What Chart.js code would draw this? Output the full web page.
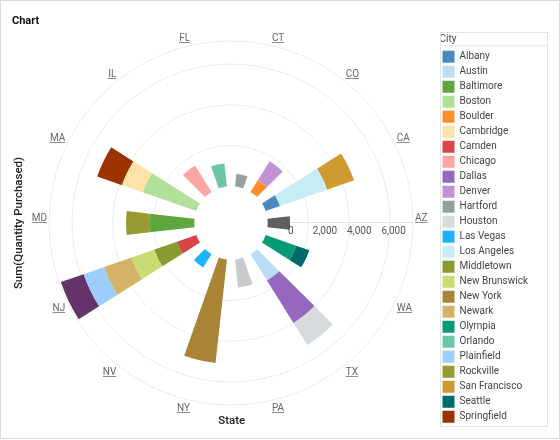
<!DOCTYPE html>
<html>
<head>
<meta charset="utf-8">
<title>Chart</title>
<script src="https://cdn.jsdelivr.net/npm/chart.js@4.4.1/dist/chart.umd.min.js"></script>
<style>
  html, body { margin: 0; padding: 0; background: #fff; }
  canvas { display: block; }
</style>
</head>
<body>
<canvas id="myChart" width="560" height="440"></canvas>
<script>
// States in alphabetical order; the chart lays them out counter-clockwise from the right
const states = ['AZ', 'CA', 'CO', 'CT', 'FL', 'IL', 'MA', 'MD', 'NJ', 'NV', 'NY', 'PA', 'TX', 'WA'];

const cities = ['Albany', 'Austin', 'Baltimore', 'Boston', 'Boulder', 'Cambridge', 'Camden', 'Chicago',
  'Dallas', 'Denver', 'Hartford', 'Houston', 'Las Vegas', 'Los Angeles', 'Middletown', 'New Brunswick',
  'New York', 'Newark', 'Olympia', 'Orlando', 'Plainfield', 'Rockville', 'San Francisco', 'Seattle',
  'Springfield', 'Trenton', 'Tucson', 'York'];

// cities that are stacked but not listed in the visible legend
const unlisted = ['Trenton', 'Tucson', 'York'];

// Sum(Quantity Purchased) per city, one value per state (same order as states)
const _ = null;
//                    AZ    CA    CO    CT   FL    IL    MA    MD    NJ    NV   NY    PA    TX    WA
const albany       = [_,    740,  _,    _,   _,    _,    _,    _,    _,    _,   _,    _,    _,    _];
const austin       = [_,    _,    _,    _,   _,    _,    _,    _,    _,    _,   _,    _,    1530, _];
const baltimore    = [_,    _,    _,    _,   _,    _,    _,    2220, _,    _,   _,    _,    _,    _];
const boston       = [_,    _,    _,    _,   _,    _,    2780, _,    _,    _,   _,    _,    _,    _];
const boulder      = [_,    _,    680,  _,   _,    _,    _,    _,    _,    _,   _,    _,    _,    _];
const cambridge    = [_,    _,    _,    _,   _,    _,    1080, _,    _,    _,   _,    _,    _,    _];
const camden       = [_,    _,    _,    _,   _,    _,    _,    _,    1000, _,   _,    _,    _,    _];
const chicago      = [_,    _,    _,    _,   _,    1530, _,    _,    _,    _,   _,    _,    _,    _];
const dallas       = [_,    _,    _,    _,   _,    _,    _,    _,    _,    _,   _,    _,    2450, _];
const denver       = [_,    _,    1100, _,   _,    _,    _,    _,    _,    _,   _,    _,    _,    _];
const hartford     = [_,    _,    _,    630, _,    _,    _,    _,    _,    _,   _,    _,    _,    _];
const houston      = [_,    _,    _,    _,   _,    _,    _,    _,    _,    _,   _,    _,    1280, _];
const lasVegas     = [_,    _,    _,    _,   _,    _,    _,    _,    _,    770, _,    _,    _,    _];
const losAngeles   = [_,    2450, _,    _,   _,    _,    _,    _,    _,    _,   _,    _,    _,    _];
const middletown   = [_,    _,    _,    _,   _,    _,    _,    _,    1180, _,   _,    _,    _,    _];
const newBrunswick = [_,    _,    _,    _,   _,    _,    _,    _,    1180, _,   _,    _,    _,    _];
const newYork      = [_,    _,    _,    _,   _,    _,    _,    _,    _,    _,   5110, _,    _,    _];
const newark       = [_,    _,    _,    _,   _,    _,    _,    _,    1430, _,   _,    _,    _,    _];
const olympia      = [_,    _,    _,    _,   _,    _,    _,    _,    _,    _,   _,    _,    _,    1590];
const orlando      = [_,    _,    _,    _,   1140, _,    _,    _,    _,    _,   _,    _,    _,    _];
const plainfield   = [_,    _,    _,    _,   _,    _,    _,    _,    1060, _,   _,    _,    _,    _];
const rockville    = [_,    _,    _,    _,   _,    _,    _,    1130, _,    _,   _,    _,    _,    _];
const sanFrancisco = [_,    1400, _,    _,   _,    _,    _,    _,    _,    _,   _,    _,    _,    _];
const seattle      = [_,    _,    _,    _,   _,    _,    _,    _,    _,    _,   _,    _,    _,    680];
const springfield  = [_,    _,    _,    _,   _,    _,    1290, _,    _,    _,   _,    _,    _,    _];
const trenton      = [_,    _,    _,    _,   _,    _,    _,    _,    1190, _,   _,    _,    _,    _];
const tucson       = [1100, _,    _,    _,   _,    _,    _,    _,    _,    _,   _,    _,    _,    _];
const york         = [_,    _,    _,    _,   _,    _,    _,    _,    _,    _,   _,    1380, _,    _];

const series = [albany, austin, baltimore, boston, boulder, cambridge, camden, chicago, dallas, denver,
  hartford, houston, lasVegas, losAngeles, middletown, newBrunswick, newYork, newark, olympia, orlando,
  plainfield, rockville, sanFrancisco, seattle, springfield, trenton, tucson, york];

const colors = ['#4a8bbf', '#bcdcf4', '#5fa63f', '#b0e09a', '#fd8f2a', '#fee2a8', '#d94444', '#fca6a3',
  '#9568be', '#c192d4', '#95a0a0', '#d8dbde', '#19b4fd', '#c6edf5', '#889a32', '#cbdc72',
  '#a98436', '#d4b26a', '#069a75', '#6cc6a4', '#9ccdfd', '#9a9a35', '#d09a33', '#016a6a',
  '#9a3300', '#64336a', '#5f5f5f', '#cacaca'];

// radial axis
const tickValues = [0, 2000, 4000, 6000];
const rMin = -1800;   // leaves the empty hole in the middle
const rMax = 7130;

const barShare = 0.51;   // part of each slice filled by the bar
const axisInset = 23;

// chart order goes clockwise, the original goes counter-clockwise
const ccw = arr => [arr[0], ...arr.slice(1).reverse()];

// polar area whose segments stack outward from the hole
class StackedPolarController extends Chart.PolarAreaController {
  updateElements(arcs, start, count, mode) {
    const scale = this.chart.scales.r;
    const datasets = this.chart.data.datasets;
    const half = Math.PI / this.chart.data.labels.length * barShare;
    for (let i = start; i < start + count; i++) {
      let base = 0;
      for (let d = 0; d < this.index; d++) base += datasets[d].data[i] || 0;
      const value = this.getDataset().data[i] || 0;
      const mid = scale.getIndexAngle(i) - Math.PI / 2;
      this.updateElement(arcs[i], i, {
        x: scale.xCenter,
        y: scale.yCenter,
        innerRadius: scale.getDistanceFromCenterForValue(base),
        outerRadius: scale.getDistanceFromCenterForValue(base + value),
        startAngle: mid - half,
        endAngle: mid + half,
        circumference: half * 2,
        options: this.resolveDataElementOptions(i, mode)
      }, mode);
    }
  }
}
StackedPolarController.id = 'stackedPolar';
StackedPolarController.defaults = Chart.PolarAreaController.defaults;
StackedPolarController.overrides = Chart.PolarAreaController.overrides;
Chart.register(StackedPolarController);

// state names, value labels, title and frames
const decorations = {
  id: 'decorations',
  beforeDatasetsDraw(chart) {
    const r = chart.scales.r;
    const ctx = chart.ctx;
    const start = r.getDistanceFromCenterForValue(0) + axisInset;
    ctx.save();
    ctx.strokeStyle = '#e2e2e2';
    ctx.lineWidth = 1;
    ctx.beginPath();
    ctx.moveTo(r.xCenter + start, r.yCenter - 0.5);
    ctx.lineTo(r.xCenter + r.drawingArea, r.yCenter - 0.5);
    ctx.stroke();
    ctx.restore();
  },
  afterDraw(chart) {
    const r = chart.scales.r;
    const ctx = chart.ctx;
    ctx.save();

    // underlined state names
    ctx.font = '10px Roboto, sans-serif';
    ctx.fillStyle = '#666';
    ctx.strokeStyle = '#8c8c8c';
    ctx.lineWidth = 1;
    ctx.textBaseline = 'alphabetic';
    chart.data.labels.forEach((label, i) => {
      const p = r.getPointPosition(i, r.drawingArea + 2);
      const a = r.getIndexAngle(i) - Math.PI / 2;
      const c = Math.cos(a);
      const s = Math.sin(a);
      const align = c > 0.01 ? 'left' : (c < -0.01 ? 'right' : 'center');
      const y = Math.round(s > 0.01 ? p.y + 8.6 : p.y - 2.5);
      const w = ctx.measureText(label).width;
      const x0 = align === 'left' ? p.x : (align === 'right' ? p.x - w : p.x - w / 2);
      ctx.textAlign = align;
      ctx.fillText(label, p.x, y);
      ctx.beginPath();
      ctx.moveTo(x0, y + 1.5);
      ctx.lineTo(x0 + w, y + 1.5);
      ctx.stroke();
    });

    // value labels along the axis
    const start = r.getDistanceFromCenterForValue(0) + axisInset;
    ctx.fillStyle = '#555';
    ctx.textAlign = 'center';
    ctx.textBaseline = 'middle';
    tickValues.forEach(v => {
      const x = r.xCenter + start + v / r.max * (r.drawingArea - start);
      ctx.fillText(v.toLocaleString('en-US'), x, r.yCenter + 8.5);
    });

    // chart title
    ctx.font = 'bold 11px Roboto, sans-serif';
    ctx.fillStyle = '#111';
    ctx.textAlign = 'left';
    ctx.textBaseline = 'alphabetic';
    ctx.fillText('Chart', 12, 24);

    // legend frame
    const lg = chart.legend;
    const lx = Math.round(lg.left) + 0.5;
    const ly = Math.round(lg.top) + 0.5;
    ctx.strokeStyle = '#e4e4e4';
    ctx.strokeRect(lx, ly, 107, 394);
    ctx.strokeStyle = '#efefef';
    ctx.lineWidth = 1.5;
    ctx.beginPath();
    ctx.moveTo(lx, ly + 13.2);
    ctx.lineTo(lx + 107, ly + 13.2);
    ctx.stroke();

    // outer frame
    ctx.strokeStyle = '#d9d9d9';
    ctx.lineWidth = 1;
    ctx.strokeRect(0.5, 0.5, 559, 438);
    ctx.restore();
  }
};

Chart.defaults.font.family = "Roboto, 'Noto Sans', sans-serif";

const canvas = document.getElementById('myChart').getContext('2d');

const myChart = new Chart(canvas, {
  type: 'stackedPolar',
  data: {
    labels: ccw(states),
    datasets: cities.map((city, i) => ({
      label: city,
      data: ccw(series[i]),
      backgroundColor: colors[i],
      borderWidth: 0
    }))
  },
  options: {
    responsive: false,
    animation: false,
    layout: {
      padding: { top: 32, left: 12, right: 22, bottom: 12 }
    },
    scales: {
      r: {
        min: rMin,
        max: rMax,
        startAngle: 90,
        afterBuildTicks: axis => {
          axis.ticks = tickValues.concat([rMax]).map(v => ({ value: v }));
        },
        ticks: {
          display: true,
          showLabelBackdrop: false,
          font: { size: 10 },
          backdropPadding: 4,
          callback: () => ''
        },
        grid: {
          circular: true,
          lineWidth: 1,
          color: ctx => (ctx.tick && ctx.tick.value === 0) ? 'rgba(0,0,0,0)' : '#ececec'
        },
        angleLines: { display: false },
        pointLabels: { display: false }
      }
    },
    plugins: {
      title: {
        display: true,
        text: 'Sum(Quantity Purchased)',
        position: 'left',
        fullSize: false,
        color: '#222',
        font: { size: 11.5, weight: '500', lineHeight: '12px' },
        padding: { top: 1, bottom: -1 }
      },
      subtitle: {
        display: true,
        text: 'State',
        position: 'bottom',
        fullSize: false,
        color: '#222',
        font: { size: 11.5, weight: '500', lineHeight: '14px' },
        padding: 0
      },
      legend: {
        position: 'right',
        align: 'start',
        title: {
          display: true,
          text: 'City',
          position: 'start',
          color: '#444',
          font: { size: 10 },
          padding: { top: 2.5, bottom: 1.2 }
        },
        labels: {
          boxWidth: 12,
          boxHeight: 12,
          padding: 3,
          color: '#555',
          font: { size: 10 },
          generateLabels: chart => chart.data.datasets.map((ds, i) => ({
            text: ds.label,
            fillStyle: ds.backgroundColor,
            strokeStyle: ds.backgroundColor,
            lineWidth: 0,
            hidden: false,
            datasetIndex: i
          })),
          filter: item => !unlisted.includes(item.text)
        }
      },
      tooltip: { enabled: false }
    }
  },
  plugins: [decorations]
});
</script>
</body>
</html>
